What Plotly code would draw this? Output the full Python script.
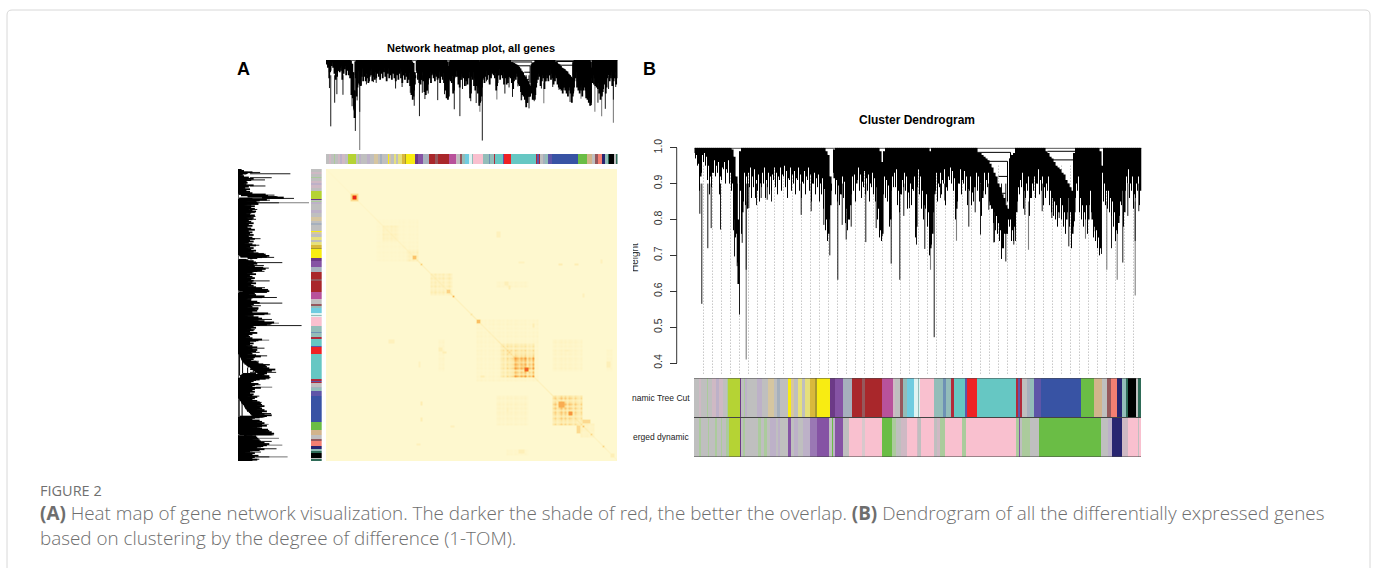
import plotly.graph_objects as go

W, H = 1373, 568

# ---------- shared gene tree (positions are gene ranks, 0..447; heights are 1-TOM) ----------
band_bottom = [  # even ranks 0,2,4...
 .985,.98,.955,.92,.98,.985,.975,.95,.92,.93,
 .965,.95,.96,.92,.945,.96,.94,.965,.93,.90,
 .80,.76,.62,.88,.82,.93,.92,.93,.945,.92,
 .94,.91,.925,.90,.93,.945,.91,.93,.92,.925,
 .945,.93,.92,.945,.925,.95,.935,.915,.945,.925,
 .935,.915,.945,.925,.905,.935,.92,.945,.925,.90,
 .93,.915,.925,.90,.915,.885,.80,.76,.84,.95,
 .915,.91,.895,.87,.92,.905,.83,.80,.84,.92,
 .925,.90,.945,.925,.905,.935,.915,.925,.90,.93,
 .915,.89,.83,.77,.76,.92,.91,.895,.80,.92,
 .93,.94,.88,.87,.91,.93,.92,.875,.90,.885,
 .92,.78,.94,.92,.88,.84,.87,.82,.72,.76,
 .87,.93,.90,.93,.91,.94,.89,.92,.945,.935,
 .915,.83,.90,.94,.91,.935,.92,.885,.92,.875,
 .89,.93,.92,.90,.86,.93,.91,.93,.84,.83,
 .82,.81,.79,.77,.72,.76,.76,.80,.80,.77,
 .78,.82,.89,.91,.93,.88,.90,.92,.86,.90,
 .92,.90,.94,.91,.92,.89,.90,.92,.88,.86,
 .85,.84,.82,.86,.84,.82,.80,.86,.82,.76,
 .82,.90,.92,.86,.84,.82,.84,.80,.88,.80,
 .78,.77,.75,.72,.93,.90,.88,.88,.86,.85,
 .82,.77,.79,.85,.88,.82,.92,.94,.90,.92,
 .87,.90,.92,.88]
fringe_bottom = [  # odd ranks 1,3,5...
 .97,.95,.88,.93,.96,.95,.91,.87,.89,.93,
 .92,.93,.87,.91,.94,.90,.93,.90,.88,.77,
 .75,.68,.90,.76,.85,.84,.83,.89,.86,.89,
 .86,.88,.85,.89,.90,.86,.89,.87,.88,.91,
 .89,.87,.91,.88,.92,.89,.86,.91,.88,.90,
 .87,.91,.88,.86,.90,.87,.91,.88,.85,.90,
 .87,.89,.85,.87,.83,.77,.74,.80,.88,.93,
 .87,.85,.84,.87,.86,.79,.77,.80,.87,.88,
 .85,.91,.88,.86,.89,.87,.88,.85,.89,.87,
 .85,.80,.75,.74,.87,.86,.85,.78,.88,.89,
 .89,.84,.82,.87,.89,.88,.83,.86,.84,.88,
 .75,.89,.87,.83,.80,.83,.78,.70,.73,.82,
 .88,.85,.89,.87,.90,.84,.88,.91,.90,.88,
 .80,.85,.90,.87,.90,.88,.84,.88,.84,.85,
 .89,.88,.85,.81,.88,.87,.89,.85,.83,.79,
 .77,.76,.74,.69,.72,.76,.76,.78,.74,.74,
 .77,.85,.87,.89,.83,.86,.88,.81,.86,.88,
 .86,.90,.87,.88,.84,.86,.88,.84,.82,.81,
 .80,.78,.82,.80,.78,.76,.82,.78,.72,.78,
 .86,.88,.82,.80,.78,.80,.76,.84,.82,.75,
 .74,.72,.70,.88,.85,.84,.83,.82,.81,.78,
 .74,.76,.81,.84,.78,.88,.90,.86,.88,.83,
 .86,.88,.84]
wedge_rank = [38,40,42,44,46,132,134,136,138,140,186,188,190,236,
 284,286,288,290,292,294,296,298,300,302,304,306,308,310,312,314,316,318,320,
 352,354,356,358,360,362,364,366,368,370,372,374,376,378,380,406,408]
wedge_top = [.995,.975,.92,.80,.99,.99,.98,.92,.90,.995,.99,.96,.99,.99,
 .985,.985,.98,.975,.97,.965,.955,.945,.93,.92,.90,.89,.87,.86,.84,.83,.97,.98,.985,
 .99,.985,.975,.97,.96,.95,.945,.94,.93,.925,.91,.90,.89,.88,.985,.99,.95]

tip_rank = [5.3,7.3,13.3,16.7,26,40,42.7,45,47.7,51.7,54.3,62,66.7,72.7,77,106.7,116.7,129.3,135.3,143.3,147.7,
 151.7,156.7,171.3,181.7,187.7,196.7,205.3,209.3,215,222,230.3,239.7,246,250.3,274.3,280.7,286,300,294.3,
 299.3,307,311.3,319.3,321,330.3,347.7,357.3,364.7,374.3,380,399.3,407,417,428.3,433.3,440.7,444.3]
tip_height = [.816,.565,.72,.776,.772,.697,.67,.535,.735,.66,.832,.84,.86,.855,.85,.813,.823,.785,.70,.632,.785,
 .744,.78,.737,.776,.753,.677,.632,.81,.832,.73,.718,.472,.86,.853,.78,.82,.758,.737,.827,
 .736,.716,.683,.73,.74,.813,.823,.804,.804,.725,.795,.767,.704,.72,.68,.81,.74,.823]
gray_tip_rank = [51.7,236,262,334,391,412.3,422.7,440.7]
gray_tip_height = [.41,.66,.741,.716,.746,.66,.632,.588]

merge_from = [0,280,290,304,306,353,356]
merge_to = [447,316,313,313,311,383,379]
merge_height = [.999,.987,.962,.92,.873,.99,.966]
drop_rank = [316,313,379,383]
drop_top = [.987,.962,.966,.99]
drop_bottom = [.96,.85,.90,.97]

guide_rank = [9,18,27,36,45,54,63,71,80,89,98,107,116,125,134,143,152,161,170,179,188,197,206,215,224,
 233,242,251,259,268,277,286,295,304,313,322,331,340,349,358,367,376,385,394,403,412,421,430,439]

# ---------- module colours ----------
palette = {
 'grey':'#BFBFBF','ltgrn':'#ABCB9C','lilac':'#BDB1C8','pinkg':'#CFB9C4','tang':'#D6C6A0','bgrey':'#A6B0BD',
 'yellowgreen':'#B5D334','yellow':'#F8EC12','ltyel':'#E6E07C','gold':'#D9B93C','olive':'#A8992E',
 'purple':'#8553A4','mpurp':'#9A78B4','dpurple':'#6C3A87','brown':'#A9272B','brbg':'#96585C','magenta':'#B8529B',
 'sky':'#6FCCE0','lcyan':'#DFF3F2','pink':'#F9C0CF','tealg':'#93BDB9','blueg':'#6E92B5','turq':'#66C7C3',
 'dred':'#B22A3A','indigo':'#5E55A8','red':'#EE2225','blue':'#3853A4','green':'#6ABD45','tan':'#D2B48C',
 'salmon':'#F47F72','navy':'#282570','dgreen':'#2E6B57','black':'#000000','ltgrey':'#D8C8CC'}

cut_modules = ['grey','pinkg','grey','ltgrn','grey','pinkg','lilac','pinkg','grey','ltgrn','yellowgreen','dpurple','grey','ltgrn','lilac',
 'grey','lilac','grey','tang','grey','bgrey','grey','yellow','tang','grey','ltyel','grey','ltyel','gold','olive','yellow','dpurple','purple',
 'bgrey','brown','brbg','brown','magenta','pinkg','grey','brbg','tealg','sky','lcyan','tealg','lcyan','pink','tealg','blueg','tealg','dred',
 'turq','indigo','red','turq','dred','indigo','dred','grey','bgrey','tealg','indigo','blue','green','tan','grey','brbg','salmon','navy',
 'tealg','dgreen','black','grey','dgreen']
cut_ends = [5.3,7,13,14,18,22,25,29,33,34.3,45.7,46.7,49.5,51,53,
 62.7,67.7,74,79.5,83,86,94.3,97,100,104,108,111,116,121,122.5,136,140.7,149.3,
 157.7,167.7,171,188.3,199.3,201,206,209,213.3,220,224,225,226,240.3,249.3,251.7,257,259.7,
 271,272.7,283.3,322,324.3,326.3,328.3,333,336,340.3,347,387,399.7,407.7,412.7,417,423.3,428.3,
 431.7,434.3,442,444.3,447]
merged_modules = ['grey','ltgrn','grey','ltgrn','grey','ltgrn','grey','ltgrn','grey','ltgrn','yellowgreen','dpurple','grey','ltgrn',
 'grey','ltgrn','grey','ltgrn','grey','lilac','grey','lilac','grey','purple','grey','lilac','grey','lilac','mpurp','purple','grey','green','lilac','purple',
 'grey','pink','ltgrey','pink','green','ltgrn','grey','pinkg','pink','pinkg','grey','pink','grey','pinkg','ltgrn','pink','ltgrn','pink',
 'ltgrn','purple','grey','ltgrn','grey','green','grey','lilac','navy','pinkg','pink','grey','pink']
merged_ends = [5.3,6.7,13.7,15,21,22.7,26.7,27.7,32,35,46,46.7,48.7,50.7,
 64.3,67,70,72.7,76,82,84.3,86,94,97,100,104.3,109.3,116,122.7,135.3,137.7,139.3,140.7,149.3,
 154.7,167.7,171,188.3,197.7,202,206.7,212.7,222.7,223.7,227,239.7,242.7,246,251,268,272,322,
 325,326.3,328.3,336,345,407,414.3,417.7,428.3,434.3,443.7,445,447]

# ---------- TOM heat map (cells are 2 px of the panel, mirrored about the diagonal) ----------
N_BLOCK = 146
cell_weight = ("2131402130"  "4120315021"  "3104213041"  "2041305162"  "0513062071"
               "4062815270"  "3816250739"  "1605284917"  "0739158260"  "9471852638"
               "0418295037"  "1503714938"  "2751620512"  "3012041302"  "102031")
diagonal_values = [.03,.04,.04,.05,.05,.06,.07,.14,.08,.07,.08,.09,.10,.11,.10,.12,.14,.12,.11,.13,.12,.15,.17,.24,.17,
 .15,.18,.17,.17,.15,.20,.28,.17,.17,.15,.18,.24,.22,.17,.15,.17,.15,.20,.24,.30,.24,.28,.34,.28,.32,
 .30,.15,.17,.15,.17,.18,.24,.24,.20,.15,.14,.15,.24,.26,.22,.20,.14,.12,.14,.15,.10,.10,.07]
hot_row0 = [25,28,40,43,47,52,60,63,72,75,75,91,75,87,93,99,113,116,121,127,128,125,132,138,142,
 91,56,47,47,46,140,140,128,137,103,90,113,85,56]
hot_row1 = [45,35,45,44,47,62,61,63,72,76,75,91,105,103,103,100,127,118,122,133,128,126,132,138,143,
 91,57,47,47,46,141,142,128,137,103,90,127,86,58]
hot_col0 = [25,28,40,43,47,52,60,63,72,75,75,91,75,87,93,99,113,116,121,127,128,128,132,138,142,
 58,89,116,124,96,96,90,62,45,77,119,85,31,85]
hot_col1 = [45,35,45,44,47,62,61,63,72,76,75,91,105,103,103,100,127,118,122,133,128,131,132,138,143,
 59,90,117,125,98,98,100,63,46,78,120,100,33,100]
hot_value = [.06,.24,.22,.40,.36,.20,.32,.50,.20,.42,.42,.28,.05,.30,.66,.78,.44,.50,.60,.22,.40,.28,.32,.32,.12,
 .14,.12,.15,.14,.08,.12,.08,.10,.10,.14,.09,.08,.10,.06]
peak_from = [12,13]
peak_to = [15,14]
peak_value = [.28,1.0]

# ---------- text ----------
title_a = "Network heatmap plot, all genes"
title_b = "Cluster Dendrogram"
row_labels = ["namic Tree Cut", "erged dynamic"]
y_ticks = [0.4,0.5,0.6,0.7,0.8,0.9,1.0]
caption_head = "FIGURE 2"
caption_line_1 = ("<b>(A)</b> Heat map of gene network visualization. The darker the shade of red, the better the overlap. "
                  "<b>(B)</b> Dendrogram of all the differentially expressed genes")
caption_line_2 = "based on clustering by the degree of difference (1-TOM)."

SANS = "Liberation Sans, Arial, sans-serif"
CAP = "Open Sans, sans-serif"

def px_x(a, b): return [a / W, b / W]
def px_y(a, b): return [1 - b / H, 1 - a / H]

wedges = dict(zip(wedge_rank, wedge_top))
band_rank = [2 * i for i in range(len(band_bottom))]
fringe_rank = [2 * i + 1 for i in range(len(fringe_bottom))]

def stems(ranks, tops, bottoms):
    r, h = [], []
    for a, t, b in zip(ranks, tops, bottoms):
        if b < t:
            r += [a, a, None]; h += [t, b, None]
    return r, h

band_r, band_h = stems(band_rank, [wedges.get(r, 1.0) for r in band_rank], band_bottom)
fr_r, fr_h = stems(fringe_rank, [wedges.get(r + 1, 1.0) for r in fringe_rank], fringe_bottom)
tip_r, tip_h = stems(tip_rank, [.9] * len(tip_rank), tip_height)
gray_r, gray_h = stems(gray_tip_rank, [.85] * len(gray_tip_rank), gray_tip_height)
m_r, m_h = [], []
for a, b, h in zip(merge_from, merge_to, merge_height):
    m_r += [a, b, None]; m_h += [h, h, None]
for a, t, b in zip(drop_rank, drop_top, drop_bottom):
    m_r += [a, a, None]; m_h += [t, b, None]
g_r, g_h = stems(guide_rank, [.95] * len(guide_rank), [.367] * len(guide_rank))

fig = go.Figure()

def line(x, y, color, width, ax, dash=None):
    fig.add_trace(go.Scatter(x=x, y=y, mode="lines", hoverinfo="skip", showlegend=False,
                             line=dict(color=color, width=width, dash=dash), connectgaps=False,
                             xaxis="x" + ax, yaxis="y" + ax))

def tree(ax, rotated, band_w, fringe_w, fringe_color):
    def put(r, h, c, w):
        if rotated:
            line(h, r, c, w, ax)
        else:
            line(r, h, c, w, ax)
    put(gray_r, gray_h, "#7f7f7f", 1.1)
    put(tip_r, tip_h, "#1a1a1a", 1)
    put(fr_r, fr_h, fringe_color, fringe_w)
    put(band_r, band_h, "#000000", band_w)
    put(m_r, m_h, "#000000", 1)

# panel A tree, top and left
tree("1", False, 2.2, 1.8, "#000000")
tree("2", True, 2.2, 1.8, "#000000")

# panel A heat map: a 292 x 292 grid so that the diagonal stays thin
GRID = 2 * N_BLOCK
z = [[0.0] * GRID for _ in range(GRID)]
weight = [.4 + .6 * int(d) / 9 for d in cell_weight]
for r0, r1, c0, c1, v in zip(hot_row0, hot_row1, hot_col0, hot_col1, hot_value):
    big = r1 - r0 > 3 or c1 - c0 > 3
    for i in range(2 * r0, 2 * r1 + 2):
        for j in range(2 * c0, 2 * c1 + 2):
            val = v * weight[i // 2] * weight[j // 2] if big else v
            z[i][j] = max(z[i][j], val)
            z[j][i] = z[i][j]
for r0, r1, v in zip(peak_from, peak_to, peak_value):
    for i in range(2 * r0, 2 * r1 + 2):
        for j in range(2 * r0, 2 * r1 + 2):
            z[i][j] = max(z[i][j], v)
for k, v in enumerate(diagonal_values):
    for i in range(4 * k, min(4 * k + 4, GRID)):
        z[i][i] = max(z[i][i], v)
heat_scale = [[0, "#FEF8CF"], [.2, "#FDE9A8"], [.45, "#FAB85A"], [.7, "#F37A2E"], [1, "#E8251D"]]
fig.add_trace(go.Heatmap(z=z, zmin=0, zmax=1, colorscale=heat_scale, showscale=False, zsmooth="best",
                         hoverinfo="skip", xaxis="x3", yaxis="y3"))

names = list(palette)
n = len(names)
scale = []
for i, k in enumerate(names):
    scale += [[i / n, palette[k]], [(i + 1) / n, palette[k]]]

def strip(ends, modules, y_edges, ax, vertical=False):
    edges = [0] + ends
    idx = [names.index(m) for m in modules]
    kw = dict(colorscale=scale, zmin=-.5, zmax=n - .5, showscale=False, hoverinfo="skip", xaxis="x" + ax, yaxis="y" + ax)
    if vertical:
        fig.add_trace(go.Heatmap(x=y_edges, y=edges, z=[[v] for v in idx], **kw))
    else:
        fig.add_trace(go.Heatmap(x=edges, y=y_edges, z=[idx], **kw))

strip(cut_ends, cut_modules, [0, 1], "4")
strip(cut_ends, cut_modules, [0, 1], "5", vertical=True)

# panel B tree
line(g_r, g_h, "#ababab", 1, "6", dash="1px,2px")
tree("6", False, 2.1, 1.0, "#000000")

# panel B colour rows
strip(cut_ends, cut_modules, [1, 2], "7")
strip(merged_ends, merged_modules, [0, 1], "7")
line([0, 447, None, 0, 447, None, 0, 447], [2, 2, None, 1, 1, None, 0, 0], "#444444", 1.2, "7")

# cut-off y-axis title, clipped by its small sub-plot
fig.add_trace(go.Bar(x=[1], y=[1], width=[2], base=[0], marker=dict(color="rgba(0,0,0,0)"),
                     text=["Height"], textposition="inside", textangle=-90, insidetextanchor="middle",
                     constraintext="none", textfont=dict(family=SANS, size=10, color="#333333"),
                     hoverinfo="skip", showlegend=False, xaxis="x8", yaxis="y8"))

hidden = dict(visible=False, showgrid=False, zeroline=False, automargin=False)
layout = dict(
    template=None,
    width=W, height=H, margin=dict(l=0, r=0, t=0, b=0, pad=0, autoexpand=False),
    paper_bgcolor="white", plot_bgcolor="rgba(0,0,0,0)",
    showlegend=False,
    xaxis=dict(hidden, domain=px_x(326, 617.5), range=[0, 447]),
    yaxis=dict(hidden, domain=px_y(60, 152), range=[.397, 1.0]),
    xaxis2=dict(hidden, domain=px_x(238, 310), range=[1.0, .402]),
    yaxis2=dict(hidden, domain=px_y(169, 461), range=[447, 0]),
    xaxis3=dict(hidden, domain=px_x(326, 617.5), range=[-.5, GRID - .5]),
    yaxis3=dict(hidden, domain=px_y(169, 461), range=[GRID - .5, -.5]),
    xaxis4=dict(hidden, domain=px_x(326, 617.5), range=[0, 447]),
    yaxis4=dict(hidden, domain=px_y(154, 164), range=[0, 1]),
    xaxis5=dict(hidden, domain=px_x(311, 321.7), range=[0, 1]),
    yaxis5=dict(hidden, domain=px_y(169, 461), range=[447, 0]),
    xaxis6=dict(hidden, domain=px_x(694.5, 1141.5), range=[0, 447]),
    yaxis6=dict(domain=px_y(147.7, 375), range=[.3667, 1.0], anchor="free", position=676.7 / W, side="left",
                tickvals=y_ticks, ticktext=[f"{v:.1f}" for v in y_ticks], tickangle=-90, ticks="outside", ticklen=7,
                tickcolor="#333333", tickwidth=1, ticklabelstandoff=4, showline=False, showgrid=False, zeroline=False,
                automargin=False, tickfont=dict(family=SANS, size=10.5, color="#333333")),
    xaxis7=dict(hidden, domain=px_x(694, 1141), range=[0, 447]),
    yaxis7=dict(hidden, domain=px_y(378, 457), range=[0, 2]),
    xaxis8=dict(hidden, domain=px_x(633, 646), range=[0, 13]),
    yaxis8=dict(hidden, domain=px_y(240, 275), range=[0, 1]),
    shapes=[
        dict(type="path", xref="paper", yref="paper", line=dict(color="#D8D8D8", width=1),
             path=f"M {7/W} 0 L {7/W} {1-15/H} Q {7/W} {1-10/H} {12/W} {1-10/H} L {1365/W} {1-10/H} "
                  f"Q {1370/W} {1-10/H} {1370/W} {1-15/H} L {1370/W} 0"),
        dict(type="line", xref="paper", yref="y6", x0=676.7 / W, x1=676.7 / W, y0=.4, y1=1.0,
             line=dict(color="#333333", width=1)),
    ],
)
fig.update_layout(**layout)

def text(x, y, s, size, color="#000000", family=SANS, anchor="left", bold=False, weight_=None):
    f = dict(family=family, size=size, color=color)
    if weight_:
        f["weight"] = weight_
    fig.add_annotation(xref="paper", yref="paper", x=x / W, y=1 - y / H, text=f"<b>{s}</b>" if bold else s, showarrow=False,
                       xanchor=anchor, yanchor="middle", align=anchor, font=f, borderpad=0, borderwidth=0)

text(471.5, 48, title_a, 11, anchor="center", bold=True)
text(917, 120, title_b, 12, anchor="center", bold=True)
text(237, 69, "A", 18, bold=True)
text(643, 69, "B", 18, bold=True)
text(690, 398, row_labels[0], 8.5, "#222222", anchor="right")
text(690, 437, row_labels[1], 8.5, "#222222", anchor="right")
text(40, 490, caption_head, 14.5, "#707070", CAP)
text(40, 525, caption_line_1 + "<br>" + caption_line_2, 18.85, "#6E6E6E", CAP, weight_=300)

fig.write_html("out.html", config=dict(displayModeBar=False),
               post_script="document.body.style.margin='0';document.body.style.overflow='hidden';")
